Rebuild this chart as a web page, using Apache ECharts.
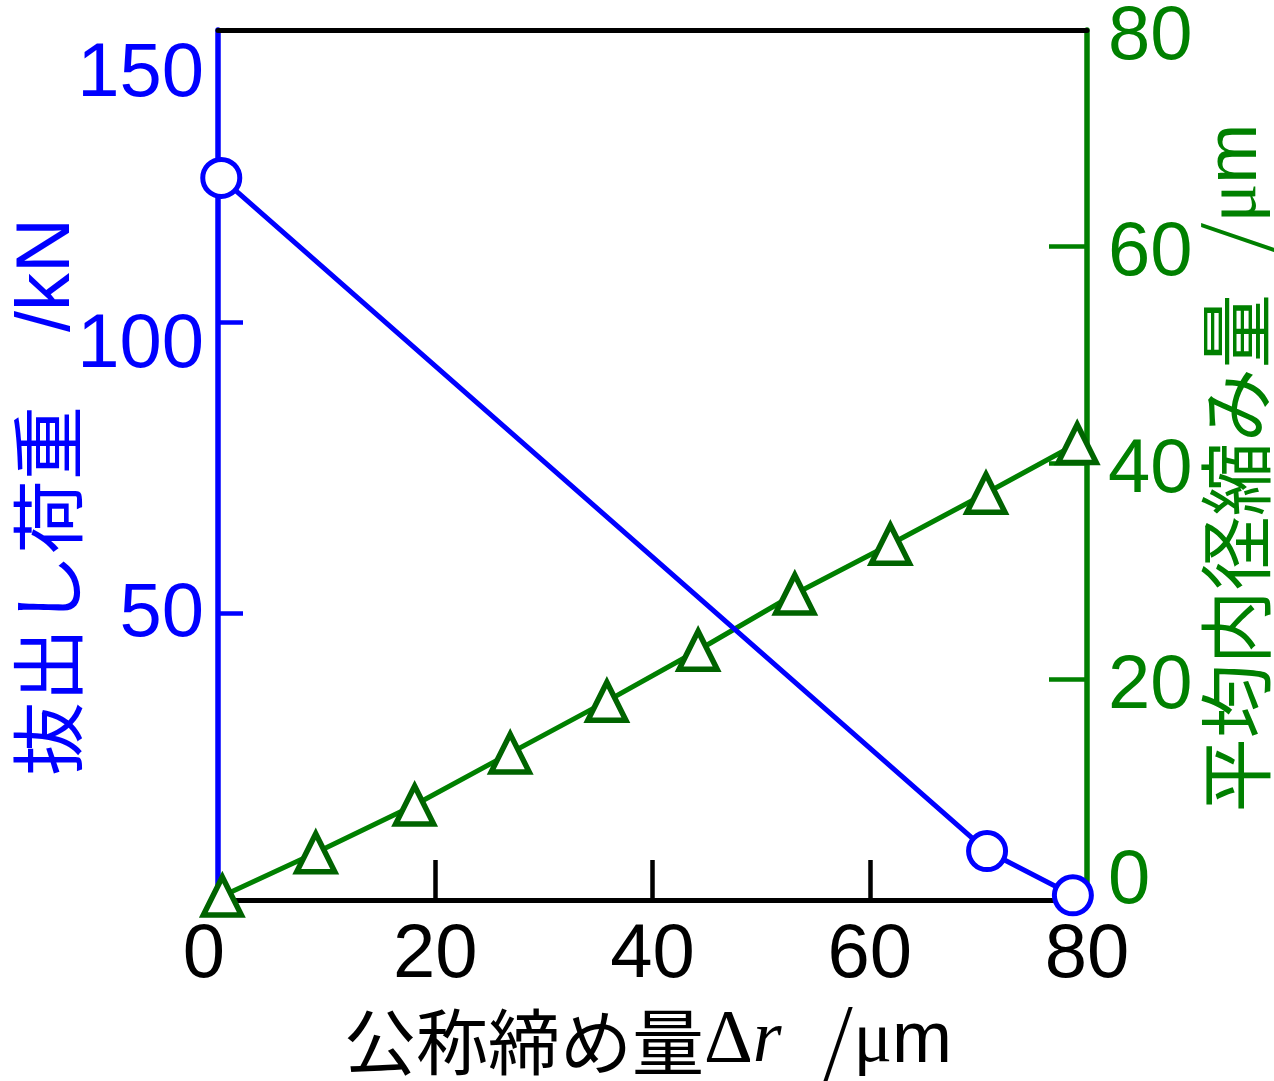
<!DOCTYPE html>
<html>
<head>
<meta charset="utf-8">
<script src="https://cdn.jsdelivr.net/npm/echarts@6/dist/echarts.min.js"></script>
<style>
html,body{margin:0;padding:0;background:#fff;}
#chart{width:1274px;height:1081px;}
</style>
</head>
<body>
<div id="chart"></div>
<script>
// Data
const loadX = [0.3, 70.8, 78.7];            // 公称締め量 Δr (μm)
const loadY = [124.8, 9.2, 1.6];            // 抜出し荷重 (kN)
const shrinkX = [0.4, 9.0, 18.1, 26.9, 35.8, 44.2, 53.1, 61.9, 70.7, 79.1];
const shrinkY = [0.0, 4.0, 8.4, 13.2, 18.0, 22.7, 27.9, 32.5, 37.2, 41.8]; // 平均内径縮み量 (μm)
const xTickLabels = [0, 20, 40, 60, 80];
const xTicks = [20, 40, 60];
const leftTickLabels = [50, 100, 150];
const leftTicks = [50, 100];
const rightTickLabels = [0, 20, 40, 60, 80];
const rightTicks = [20, 40, 60];

const BLUE = '#0000ff', GREEN = '#008000', DGREEN = '#006400';
const NUM_FONT = '"Liberation Sans Narrow", "Liberation Sans", sans-serif';
const CJK_FONT = '"Noto Sans CJK JP", sans-serif';
const SERIF = '"Liberation Serif", "DejaVu Serif", serif';
const numStyle = (c) => ({fontSize: 76, fontFamily: NUM_FONT, color: c});

const chart = echarts.init(document.getElementById('chart'), null, {renderer: 'canvas'});

const option = {
  backgroundColor: '#fff',
  animation: false,
  grid: {left: 218, right: 187, top: 28, bottom: 181, containLabel: false},
  xAxis: [{
    type: 'value', min: 0, max: 80, position: 'bottom',
    axisLine: {show: true, onZero: false, lineStyle: {color: '#000', width: 5}},
    axisTick: {show: true, inside: true, length: 40, customValues: xTicks, lineStyle: {color: '#000', width: 4.5}},
    axisLabel: {
      show: true, margin: 18, customValues: xTickLabels,
      formatter: v => v === 0 ? '{z|' + v + '}' : '{n|' + v + '}',
      rich: {n: numStyle('#000'), z: Object.assign(numStyle('#000'), {padding: [0, 28, 0, 0]})}
    },
    splitLine: {show: false}
  }, {
    type: 'value', min: 0, max: 80, position: 'top',
    axisLine: {show: true, onZero: false, lineStyle: {color: '#000', width: 5}},
    axisTick: {show: false}, axisLabel: {show: false}, splitLine: {show: false}
  }],
  yAxis: [{
    type: 'value', min: 0.8, max: 150.2, position: 'left',
    axisLine: {show: true, onZero: false, lineStyle: {color: BLUE, width: 5.5}},
    axisTick: {show: true, inside: true, length: 25, customValues: leftTicks, lineStyle: {color: BLUE, width: 4.5}},
    axisLabel: {
      show: true, margin: 14, customValues: leftTickLabels,
      formatter: v => v === 150 ? '{a|150}' : v === 100 ? '{b|100}' : '{c|' + v + '}',
      rich: {
        a: Object.assign(numStyle(BLUE), {padding: [88, 0, 0, 0]}),
        b: Object.assign(numStyle(BLUE), {padding: [48, 0, 0, 0]}),
        c: Object.assign(numStyle(BLUE), {padding: [4, 0, 0, 0]})
      }
    },
    splitLine: {show: false}
  }, {
    type: 'value', min: -0.37, max: 80, position: 'right',
    axisLine: {show: true, onZero: false, lineStyle: {color: GREEN, width: 5.5}},
    axisTick: {show: true, inside: true, length: 38, customValues: rightTicks, lineStyle: {color: GREEN, width: 4.5}},
    axisLabel: {
      show: true, margin: 21, customValues: rightTickLabels,
      formatter: v => v === 0 ? '{z|0}' : '{n|' + v + '}',
      rich: {
        n: Object.assign(numStyle(GREEN), {padding: [16, 0, 0, 0]}),
        z: Object.assign(numStyle(GREEN), {padding: [0, 0, 28, 0]})
      }
    },
    splitLine: {show: false}
  }],
  series: [{
    type: 'line', xAxisIndex: 0, yAxisIndex: 1, clip: false, z: 3,
    data: shrinkX.map((x, i) => [x, shrinkY[i]]),
    lineStyle: {color: GREEN, width: 5},
    symbol: 'triangle', symbolSize: 38, showAllSymbol: true,
    itemStyle: {color: '#fff', borderColor: DGREEN, borderWidth: 5.5}
  }, {
    type: 'line', xAxisIndex: 0, yAxisIndex: 0, clip: false, z: 4,
    data: loadX.map((x, i) => [x, loadY[i]]),
    lineStyle: {color: BLUE, width: 5},
    symbol: 'circle', symbolSize: 37, showAllSymbol: true,
    itemStyle: {color: '#fff', borderColor: BLUE, borderWidth: 5}
  }],
  graphic: [{
    type: 'text', x: 48, y: 497, rotation: Math.PI / 2,
    style: {
      text: '{a|抜出し荷重　}{b|/kN}',
      align: 'center', verticalAlign: 'middle',
      rich: {
        a: {fontSize: 74, fontFamily: CJK_FONT, fill: BLUE},
        b: {fontSize: 76, fontFamily: NUM_FONT, fill: BLUE}
      }
    }
  }, {
    type: 'text', x: 1236, y: 468, rotation: Math.PI / 2,
    style: {
      text: '{a|平均内径縮み量}{s|  /}{u|μ}{m|m}',
      align: 'center', verticalAlign: 'middle',
      rich: {
        a: {fontSize: 74, fontFamily: CJK_FONT, fill: GREEN},
        s: {fontSize: 86, fontFamily: CJK_FONT, fontWeight: 300, fill: GREEN},
        u: {fontSize: 72, fontFamily: SERIF, fill: GREEN},
        m: {fontSize: 72, fontFamily: NUM_FONT, fill: GREEN}
      }
    }
  }, {
    type: 'text', x: 648, y: 1042,
    style: {
      text: '{a|公称締め量}{d|Δ}{r|r}{s|  /}{u|μ}{m|m}',
      align: 'center', verticalAlign: 'middle',
      rich: {
        a: {fontSize: 72, fontFamily: CJK_FONT, fill: '#000'},
        d: {fontSize: 76, fontFamily: SERIF, fill: '#000'},
        r: {fontSize: 74, fontFamily: SERIF, fontStyle: 'italic', fill: '#000'},
        s: {fontSize: 86, fontFamily: CJK_FONT, fontWeight: 300, fill: '#000'},
        u: {fontSize: 72, fontFamily: SERIF, fill: '#000'},
        m: {fontSize: 72, fontFamily: NUM_FONT, fill: '#000'}
      }
    }
  }]
};
chart.setOption(option);
</script>
</body>
</html>
